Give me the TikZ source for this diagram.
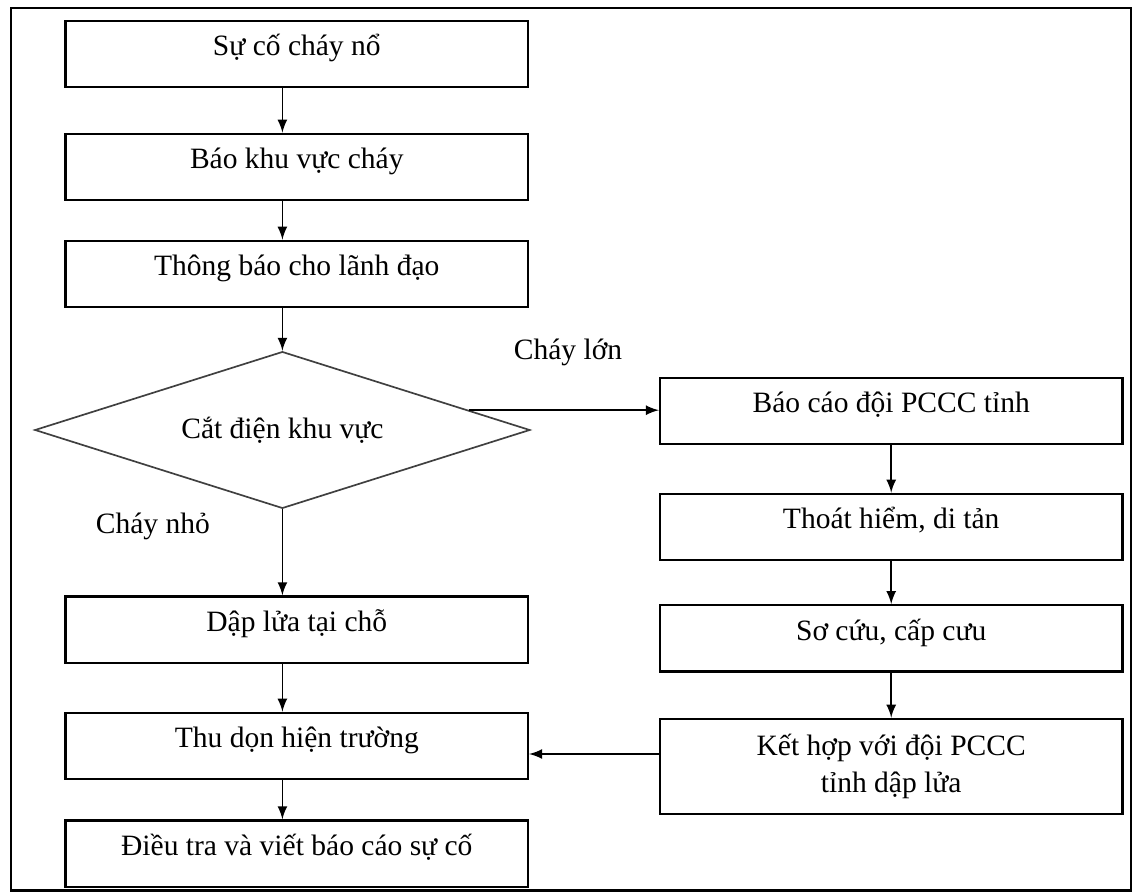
\documentclass[tikz,border=0pt]{standalone}
\usepackage{fontspec}
\setmainfont{Liberation Serif}
\usetikzlibrary{shapes.geometric,calc}

\tikzset{
    hop/.style={draw,thick,rectangle,minimum width=5.78cm,inner ysep=0pt},
    buoc/.style={hop,text height=0.435cm,text depth=0.395cm},
    nhanh/.style={draw=black!75,semithick,diamond,aspect=3.15,minimum width=6.19cm,minimum height=1.96cm,inner sep=0pt}
}

\begin{document}
\begin{tikzpicture}[font=\fontsize{10.5}{13}\selectfont,>=latex]
    \useasboundingbox (0,0) rectangle (14.175,-11.175);
    \draw[thick] (0.14,-0.10) rectangle (14.14,-11.13);

    \node[buoc] (s1) at (3.71,-0.675) {Sự cố cháy nổ};
    \node[buoc] (s2) at (3.71,-2.0875) {Báo khu vực cháy};
    \node[buoc] (s3) at (3.71,-3.425) {Thông báo cho lãnh đạo};
    \node[nhanh] (cat) at (3.53,-5.375) {Cắt điện khu vực};
    \node[buoc] (dap) at (3.71,-7.87) {Dập lửa tại chỗ};
    \node[buoc] (thu) at (3.71,-9.325) {Thu dọn hiện trường};
    \node[buoc] (dtra) at (3.71,-10.67) {Điều tra và viết báo cáo sự cố};

    \node[buoc] (bcao) at (11.14,-5.1375) {Báo cáo đội PCCC tỉnh};
    \node[buoc] (thoat) at (11.14,-6.5875) {Thoát hiểm, di tản};
    \node[buoc] (socuu) at (11.14,-7.98) {Sơ cứu, cấp cưu};
    \node[hop,minimum height=1.19cm,align=center] (kethop) at (11.14,-9.58) {Kết hợp với đội PCCC\\tỉnh dập lửa};

    \node (lon) at (7.1,-4.4) {Cháy lớn};
    \node (nho) at (1.91,-6.575) {Cháy nhỏ};

    \draw[->,semithick] (s1.south -| cat) -- (s2.north -| cat);
    \draw[->,semithick] (s2.south -| cat) -- (s3.north -| cat);
    \draw[->,semithick] (s3.south -| cat) -- (cat.north);
    \draw[->,semithick] (cat.south) -- (dap.north -| cat);
    \draw[->,semithick] (dap.south -| cat) -- (thu.north -| cat);
    \draw[->,semithick] (thu.south -| cat) -- (dtra.north -| cat);

    \draw[->,semithick] ($(cat.north)!0.75!(cat.east)$) coordinate (r) -- (r -| bcao.west);
    \draw[->,semithick] (bcao) -- (thoat);
    \draw[->,semithick] (thoat) -- (socuu);
    \draw[->,semithick] (socuu) -- (kethop);
    \draw[->,semithick] ([yshift=-0.1cm]thu.east -| kethop.west) -- ([yshift=-0.1cm]thu.east);
\end{tikzpicture}
\end{document}
